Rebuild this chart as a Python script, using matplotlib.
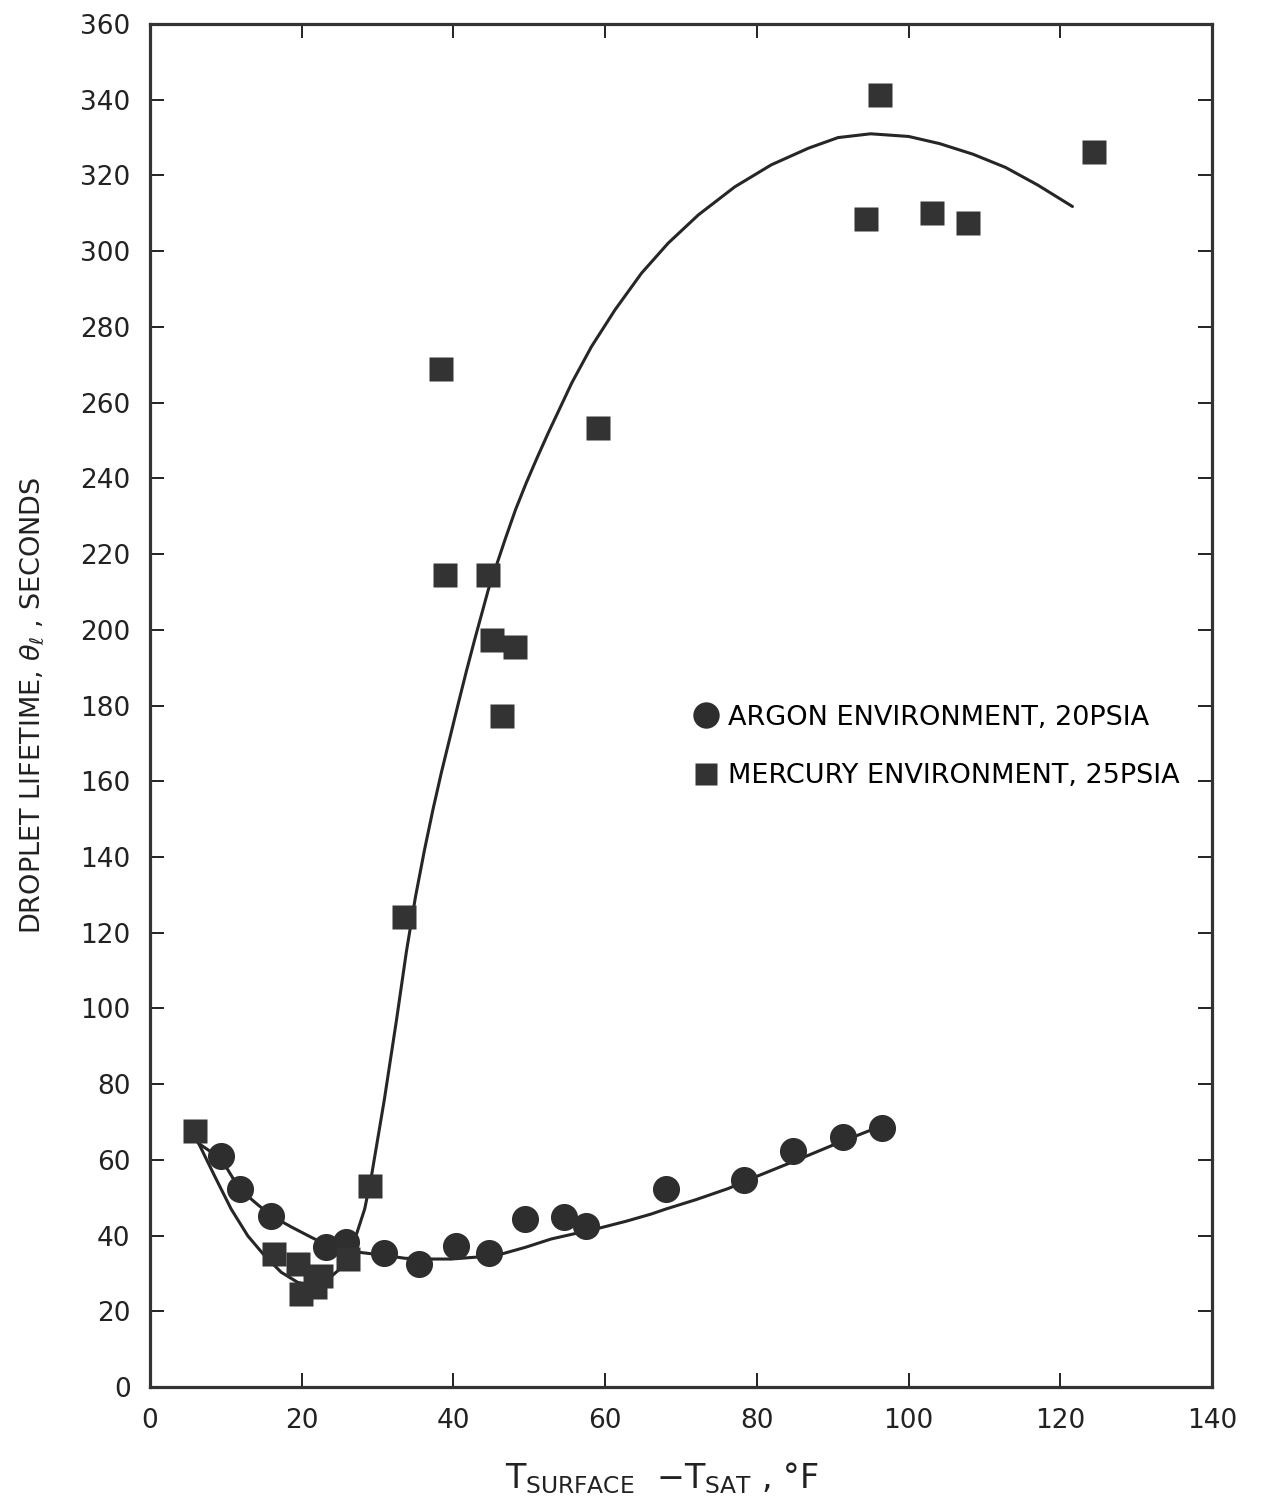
import matplotlib
matplotlib.use("Agg")
import matplotlib.pyplot as plt
from matplotlib.lines import Line2D

# ---- data ----
argon_x = [9.4, 11.8, 16.0, 23.2, 25.9, 30.8, 35.5, 40.4, 44.7, 49.5, 54.6, 57.5,
           68.0, 78.3, 84.7, 91.3, 96.5]
argon_y = [60.9, 52.3, 45.2, 36.9, 38.2, 35.4, 32.5, 37.3, 35.4, 44.5, 44.8, 42.6,
           52.4, 54.7, 62.4, 65.9, 68.3]

mercury_x = [5.9, 16.4, 19.5, 19.9, 21.7, 22.6, 26.1, 29.0, 33.5, 38.3, 38.9, 44.6,
             45.1, 48.1, 46.4, 59.0, 94.4, 96.2, 103.1, 107.8, 124.5]
mercury_y = [67.5, 35.1, 32.5, 24.5, 26.4, 29.3, 33.8, 53.0, 124.2, 268.9, 214.4, 214.4,
             197.4, 195.5, 177.2, 253.4, 308.4, 341.3, 310.0, 307.4, 326.3]

argon_curve_x = [6.3, 9.4, 11.8, 14.0, 16.0, 18.7, 21.3, 23.5, 25.5, 27.9, 30.8, 33.6,
                 36.5, 39.7, 43.0, 46.3, 49.5, 52.9, 56.2, 59.5, 62.8, 66.1, 68.0, 72.0,
                 76.2, 80.2, 85.0, 89.8, 94.7, 96.0]
argon_curve_y = [64.5, 60.2, 52.3, 48.5, 45.2, 42.2, 39.5, 37.3, 36.2, 35.5, 34.8, 34.0,
                 33.8, 33.8, 34.3, 35.1, 36.9, 39.1, 40.6, 42.1, 43.8, 45.7, 47.0, 49.5,
                 52.4, 55.8, 59.7, 63.7, 67.6, 68.5]

mercury_curve_x = [6.0, 6.5, 8.5, 10.7, 12.9, 15.1, 17.3, 19.5, 21.5, 23.5, 25.5, 27.0,
                   28.3, 29.2, 30.9, 32.5, 33.8, 35.0, 36.2, 37.3, 38.4, 39.5, 40.6, 41.7,
                   42.8, 44.6, 46.8, 48.2, 49.6, 51.0, 52.5, 55.6, 58.2, 61.3, 64.8, 68.3,
                   72.3, 77.1, 81.9, 86.8, 90.7, 95.0, 100.0, 104.1, 108.5, 112.8, 117.0,
                   121.6]
mercury_curve_y = [67.0, 64.0, 55.8, 47.0, 39.9, 34.7, 30.3, 27.6, 27.0, 28.5, 32.0, 39.0,
                   47.0, 55.8, 76.0, 97.0, 115.0, 129.5, 142.0, 152.5, 162.2, 171.2, 180.2, 189.0,
                   197.4, 210.6, 223.8, 231.8, 238.8, 245.3, 252.0, 265.2, 274.8, 284.5, 294.2, 302.1,
                   309.6, 317.0, 322.8, 327.2, 330.0, 331.0, 330.3, 328.4, 325.6, 322.1, 317.5,
                   311.8]

x_ticks = [0, 20, 40, 60, 80, 100, 120, 140]
y_ticks = list(range(0, 361, 20))

labels = ["ARGON ENVIRONMENT, 20PSIA", "MERCURY ENVIRONMENT, 25PSIA"]

# ---- figure ----
plt.rcParams['font.family'] = ['DejaVu Sans']
fig = plt.figure(figsize=(12.68, 15.02), dpi=100)
ax = fig.add_axes([150/1268, 1 - 1387/1502, (1212-150)/1268, (1387-24)/1502])

ink = '#262626'
ax.plot(mercury_curve_x, mercury_curve_y, color=ink, lw=2.2, solid_capstyle='round',
        solid_joinstyle='round', zorder=2)
ax.plot(argon_curve_x, argon_curve_y, color=ink, lw=2.2, solid_capstyle='round',
        solid_joinstyle='round', zorder=2)
ax.plot(argon_x, argon_y, 'o', color='#2e2e2e', ms=19.5, mec='none', zorder=3)
ax.plot(mercury_x, mercury_y, 's', color='#333333', ms=17.0, mec='none', zorder=3)

ax.set_xlim(0, 140)
ax.set_ylim(0, 360)
ax.set_xticks(x_ticks)
ax.set_yticks(y_ticks)
ax.tick_params(direction='in', length=10, width=1.4, top=True, right=True,
               labelsize=19, colors='#222222')
ax.tick_params(axis='x', pad=15)
ax.tick_params(axis='y', pad=14)
for s in ax.spines.values():
    s.set_linewidth(2.3)
    s.set_color('#333333')

ax.set_ylabel(r'DROPLET LIFETIME, $\theta_{\ell}$ , SECONDS', fontsize=19.5, labelpad=25,
              color='#222222')
ax.set_xlabel(r'T$_{\mathsf{SURFACE}}$  $-$T$_{\mathsf{SAT}}$ , °F', fontsize=24, labelpad=22,
              color='#222222')
ax.xaxis.set_label_coords(0.482, -0.054)

handles = [Line2D([], [], ls='none', marker='o', color='#2e2e2e', ms=19, mec='none'),
           Line2D([], [], ls='none', marker='s', color='#333333', ms=16, mec='none')]
ax.legend(handles, labels, loc='upper left', bbox_to_anchor=(0.512, 0.5005),
          frameon=False, fontsize=19.5, handlelength=0.9, handletextpad=0.35,
          labelspacing=1.2, borderpad=0, borderaxespad=0)

fig.savefig('out.png', dpi=100)
